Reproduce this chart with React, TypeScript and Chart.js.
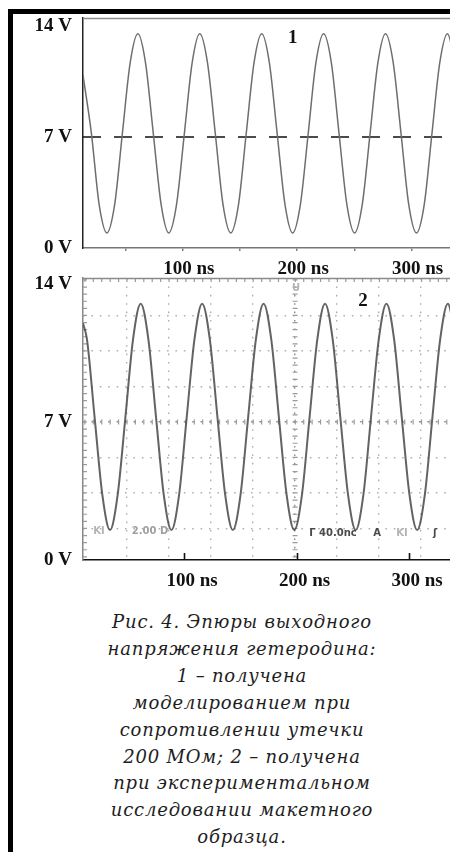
import React, { useEffect, useRef } from "react";
import { Chart, registerables } from "chart.js";

Chart.register(...registerables);

// ---------- data ----------
// Panel 1: simulated output voltage (time in ns, voltage in V)
const simTimes = [
  12.7, 20.1, 26.8, 33.6, 40.4, 47.1, 53.9, 60.7, 67.4, 74.2, 81.0, 87.7, 94.5,
  101.3, 108.1, 114.8, 121.6, 128.4, 135.1, 141.9, 148.7, 155.4, 162.2, 169.0,
  175.7, 182.5, 189.3, 196.0, 202.8, 209.6, 216.3, 223.1, 229.9, 236.6, 243.4,
  250.2, 256.9, 263.7, 270.5, 277.2, 284.0, 290.8, 297.5, 304.3, 311.1, 317.8,
  324.6, 331.4, 338.1,
];
const simVolts = [
  10.9, 7.2, 2.75,
  0.95, 2.75, 7.2, 11.65, 13.5, 11.65, 7.2, 2.75,
  0.95, 2.75, 7.2, 11.65, 13.5, 11.65, 7.2, 2.75,
  0.95, 2.75, 7.2, 11.65, 13.5, 11.65, 7.2, 2.75,
  0.95, 2.75, 7.2, 11.65, 13.5, 11.65, 7.2, 2.75,
  0.95, 2.75, 7.2, 11.65, 13.5, 11.65, 7.2, 2.75,
  0.95, 2.75, 7.2, 11.65, 13.5, 11.65,
];
const simMidVolt = 7;

// Panel 2: oscilloscope trace of the prototype
const scopeTimes = [
  10.2, 13.7, 20.5, 27.4,
  34.2, 41.0, 47.9, 54.7, 61.5, 68.3, 75.1, 82.0,
  88.8, 95.6, 102.4, 109.3, 116.1, 122.9, 129.7, 136.6,
  143.4, 150.2, 157.0, 163.9, 170.7, 177.5, 184.3, 191.2,
  198.0, 204.8, 211.6, 218.5, 225.3, 232.1, 238.9, 245.8,
  252.6, 259.4, 266.2, 273.1, 279.9, 286.7, 293.5, 300.4,
  307.2, 314.0, 320.8, 327.7, 334.5, 341.3,
];
const scopeVolts = [
  12.0, 11.2, 7.25, 3.3,
  1.52, 3.3, 7.25, 11.2, 13.0, 11.2, 7.25, 3.3,
  1.52, 3.3, 7.25, 11.2, 13.0, 11.2, 7.25, 3.3,
  1.52, 3.3, 7.25, 11.2, 13.0, 11.2, 7.25, 3.3,
  1.52, 3.3, 7.25, 11.2, 13.0, 11.2, 7.25, 3.3,
  1.52, 3.3, 7.25, 11.2, 13.0, 11.2, 7.25, 3.3,
  1.52, 3.3, 7.25, 11.2, 13.0, 11.2,
];
// oscilloscope graticule
const scopeGridTimes = [49.3, 86.7, 124.0, 161.3, 198.7, 236.0, 273.3, 310.7];
const scopeGridVolts = [1.6, 3.4, 5.2, 7.0, 8.8, 10.6, 12.4];

// ticks
const voltTicks = [0, 7, 14];
const simTimeTicks = [50, 100, 150, 200, 250, 300];
const scopeTimeTicks = [100, 200, 300];

// axis ranges
const simRange = { xMin: 12.7, xMax: 333.6, yMin: 0, yMax: 14.5 };
const scopeRange = { xMin: 10.2, xMax: 336.4, yMin: 0, yMax: 14.3 };

// texts
const simNotes = [{ text: "1", t: 196.1, v: 13.24, kind: "num" }];
const scopeNotes = [
  { text: "2", t: 259.1, v: 13.14, kind: "num" },
  { text: "U", t: 199.6, v: 13.75, kind: "faint" },
  { text: "KI", t: 24.4, v: 1.45, kind: "faint" },
  { text: "2.00 D", t: 69.8, v: 1.45, kind: "mid" },
  { text: "Г 40.0nc", t: 232.4, v: 1.37, kind: "dark" },
  { text: "A", t: 271.6, v: 1.37, kind: "dark" },
  { text: "KI", t: 293.8, v: 1.37, kind: "faint" },
  { text: "ʃ", t: 323.1, v: 1.37, kind: "dark" },
];

const captionLines = [
  "Рис. 4. Эпюры выходного",
  "напряжения гетеродина:",
  "1 – получена",
  "моделированием при",
  "сопротивлении утечки",
  "200 МОм; 2 – получена",
  "при экспериментальном",
  "исследовании макетного",
  "образца.",
];

// ---------- helpers ----------
const SERIF = '"Liberation Serif", "Times New Roman", serif';

const fixSize = (size: number) => (scale: any) => {
  if (scale.isHorizontal()) scale.height = size;
  else scale.width = size;
  scale.paddingLeft = 0;
  scale.paddingRight = 0;
  scale.paddingTop = 0;
  scale.paddingBottom = 0;
};
const setTicks = (values: number[]) => (scale: any) => {
  scale.ticks = values.map((value) => ({ value }));
};

const noteStyles: Record<string, { font: string; color: string }> = {
  num: { font: `bold 19px ${SERIF}`, color: "#111" },
  faint: { font: 'bold 10px "DejaVu Sans"', color: "#b4b4b4" },
  mid: { font: 'bold 10px "DejaVu Sans"', color: "#a0a0a0" },
  dark: { font: 'bold 10px "DejaVu Sans"', color: "#4a4a4a" },
};

const topFrame = {
  id: "topFrame",
  afterDatasetsDraw(chart: any, _a: any, opts: any) {
    const { ctx, chartArea } = chart;
    ctx.save();
    ctx.strokeStyle = opts.color;
    ctx.lineWidth = opts.width;
    ctx.beginPath();
    ctx.moveTo(chartArea.left, chartArea.top + 0.5);
    ctx.lineTo(chartArea.right, chartArea.top + 0.5);
    ctx.stroke();
    ctx.restore();
  },
};

const notesPlugin = {
  id: "notes",
  afterDatasetsDraw(chart: any, _a: any, opts: any) {
    const { ctx, scales } = chart;
    ctx.save();
    ctx.textAlign = "center";
    ctx.textBaseline = "middle";
    for (const n of opts.items || []) {
      const st = noteStyles[n.kind];
      ctx.font = st.font;
      ctx.fillStyle = st.color;
      ctx.fillText(n.text, scales.x.getPixelForValue(n.t), scales.y.getPixelForValue(n.v));
    }
    ctx.restore();
  },
};

const innerTicks = {
  id: "innerTicks",
  afterDraw(chart: any, _a: any, opts: any) {
    const { ctx, chartArea, scales } = chart;
    ctx.save();
    ctx.strokeStyle = opts.color;
    ctx.lineWidth = opts.width;
    ctx.beginPath();
    for (const t of scales.x.ticks) {
      const px = Math.round(scales.x.getPixelForValue(t.value)) + 0.5;
      ctx.moveTo(px, chartArea.bottom);
      ctx.lineTo(px, chartArea.bottom - opts.length);
    }
    ctx.stroke();
    ctx.restore();
  },
};

const scopeMarks = {
  id: "scopeMarks",
  beforeDatasetsDraw(chart: any, _a: any, opts: any) {
    const { ctx, chartArea: a, scales } = chart;
    const xg = scales.xg;
    const yg = scales.yg;
    const sub = (vals: number[], min: number, max: number) => {
      const step = (vals[1] - vals[0]) / 5;
      let start = vals[0];
      while (start - step >= min) start -= step;
      const out: number[] = [];
      for (let v = start; v <= max; v += step) out.push(v);
      return out;
    };
    const xs = sub(scopeGridTimes, xg.min, xg.max).map((v) => xg.getPixelForValue(v));
    const ys = sub(scopeGridVolts, yg.min, yg.max).map((v) => yg.getPixelForValue(v));
    const cx = xg.getPixelForValue(opts.centerX);
    const cy = yg.getPixelForValue(opts.centerY);
    ctx.save();
    ctx.strokeStyle = opts.color;
    ctx.lineWidth = 1.2;
    ctx.beginPath();
    for (const px of xs) {
      ctx.moveTo(px, cy - 2.5);
      ctx.lineTo(px, cy + 2.5);
      ctx.moveTo(px, a.top);
      ctx.lineTo(px, a.top + 4);
    }
    for (const py of ys) {
      ctx.moveTo(cx - 2.5, py);
      ctx.lineTo(cx + 2.5, py);
      ctx.moveTo(a.left, py);
      ctx.lineTo(a.left + 4, py);
    }
    ctx.stroke();
    ctx.restore();
  },
};

const tickFont = { family: SERIF, size: 19, weight: "bold" as const };

// ---------- charts ----------
function SimChart() {
  const ref = useRef<HTMLCanvasElement>(null);
  useEffect(() => {
    if (!ref.current) return;
    const chart = new Chart(ref.current, {
      type: "line",
      data: {
        datasets: [
          {
            data: simTimes.map((t, i) => ({ x: t, y: simVolts[i] })),
            borderColor: "#6e6e6e",
            borderWidth: 1.5,
            pointRadius: 0,
            cubicInterpolationMode: "monotone",
            fill: false,
          },
          {
            data: [
              { x: simRange.xMin, y: simMidVolt },
              { x: simRange.xMax, y: simMidVolt },
            ],
            borderColor: "#111",
            borderWidth: 1.4,
            borderDash: [18, 13],
            pointRadius: 0,
            fill: false,
          },
        ],
      },
      options: {
        animation: false,
        responsive: false,
        events: [],
        layout: { padding: { top: 4, right: 0, left: 0, bottom: 0 } },
        plugins: {
          legend: { display: false },
          tooltip: { enabled: false },
          topFrame: { color: "#8a8a8a", width: 1.5 },
          notes: { items: simNotes },
        } as any,
        scales: {
          x: {
            type: "linear",
            min: simRange.xMin,
            max: simRange.xMax,
            afterBuildTicks: setTicks(simTimeTicks),
            afterFit: fixSize(28),
            grid: { drawOnChartArea: false, drawTicks: true, tickLength: 3, color: "#808080", lineWidth: 1.5 },
            border: { display: true, color: "#777", width: 1.5 },
            ticks: {
              autoSkip: false,
              maxRotation: 0,
              padding: 7,
              labelOffset: 6,
              color: "#111",
              font: tickFont,
              callback: (v: any) => (Number(v) % 100 === 0 ? `${v} ns` : ""),
            },
          },
          y: {
            type: "linear",
            min: simRange.yMin,
            max: simRange.yMax,
            afterBuildTicks: setTicks(voltTicks),
            afterFit: fixSize(70),
            grid: { display: false, drawTicks: false },
            border: { display: true, color: "#222", width: 1.5 },
            ticks: { padding: 11, color: "#111", font: tickFont, callback: (v: any) => `${v} V` },
          },
        },
      } as any,
      plugins: [topFrame, notesPlugin] as any,
    });
    return () => chart.destroy();
  }, []);
  return (
    <canvas
      ref={ref}
      width={437}
      height={262}
      style={{ position: "absolute", left: 13, top: 14, width: 437, height: 262, display: "block" }}
    />
  );
}

function ScopeChart() {
  const ref = useRef<HTMLCanvasElement>(null);
  useEffect(() => {
    if (!ref.current) return;
    const centerX = scopeGridTimes[4];
    const centerY = scopeGridVolts[3];
    const chart = new Chart(ref.current, {
      type: "line",
      data: {
        datasets: [
          {
            data: scopeTimes.map((t, i) => ({ x: t, y: scopeVolts[i] })),
            borderColor: "rgba(72,72,72,0.85)",
            borderWidth: 2,
            pointRadius: 0,
            cubicInterpolationMode: "monotone",
            fill: false,
          },
        ],
      },
      options: {
        animation: false,
        responsive: false,
        events: [],
        layout: { padding: { top: 16, right: 0, left: 0, bottom: 0 } },
        plugins: {
          legend: { display: false },
          tooltip: { enabled: false },
          topFrame: { color: "#8a8a8a", width: 1.5 },
          innerTicks: { color: "#111", width: 1.6, length: 7 },
          scopeMarks: { color: "#9a9a9a", centerX, centerY },
          notes: { items: scopeNotes },
        } as any,
        scales: {
          x: {
            type: "linear",
            min: scopeRange.xMin,
            max: scopeRange.xMax,
            afterBuildTicks: setTicks(scopeTimeTicks),
            afterFit: fixSize(36),
            grid: { display: false, drawTicks: false },
            border: { display: true, color: "#111", width: 1.6 },
            ticks: {
              autoSkip: false,
              maxRotation: 0,
              padding: 10,
              labelOffset: 8,
              color: "#111",
              font: tickFont,
              callback: (v: any) => `${v} ns`,
            },
          },
          y: {
            type: "linear",
            min: scopeRange.yMin,
            max: scopeRange.yMax,
            afterBuildTicks: setTicks(voltTicks),
            afterFit: fixSize(70),
            grid: { display: false, drawTicks: false },
            border: { display: true, color: "#888", width: 1.5 },
            ticks: { padding: 11, color: "#111", font: tickFont, callback: (v: any) => `${v} V` },
          },
          xg: {
            type: "linear",
            position: "top",
            min: scopeRange.xMin,
            max: scopeRange.xMax,
            afterBuildTicks: setTicks(scopeGridTimes),
            afterFit: fixSize(0),
            ticks: { display: false },
            border: { display: false, dash: [1.6, 6.8] },
            grid: {
              drawTicks: false,
              lineWidth: 1.4,
              color: (c: any) => (c.tick && c.tick.value === centerX ? "#8a8a8a" : "#b0b0b0"),
            },
          },
          yg: {
            type: "linear",
            position: "right",
            min: scopeRange.yMin,
            max: scopeRange.yMax,
            afterBuildTicks: setTicks(scopeGridVolts),
            afterFit: fixSize(0),
            ticks: { display: false },
            border: { display: false, dash: [1.6, 6.8] },
            grid: {
              drawTicks: false,
              lineWidth: 1.4,
              color: (c: any) => (c.tick && c.tick.value === centerY ? "#8a8a8a" : "#b0b0b0"),
            },
          },
        },
      } as any,
      plugins: [topFrame, scopeMarks, innerTicks, notesPlugin] as any,
    });
    return () => chart.destroy();
  }, []);
  return (
    <canvas
      ref={ref}
      width={437}
      height={334}
      style={{ position: "absolute", left: 13, top: 262, width: 437, height: 334, display: "block" }}
    />
  );
}

export default function App() {
  return (
    <div
      style={{
        position: "absolute",
        left: 0,
        top: 0,
        width: 450,
        height: 852,
        background: "#fff",
        overflow: "hidden",
      }}
    >
      <div
        style={{
          position: "absolute",
          left: 8,
          top: 9,
          width: 460,
          height: 860,
          borderLeft: "5px solid #000",
          borderTop: "5px solid #000",
          boxSizing: "border-box",
        }}
      />
      <SimChart />
      <ScopeChart />
      <div
        style={{
          position: "absolute",
          left: 42,
          width: 400,
          top: 609,
          textAlign: "center",
          fontFamily: '"DejaVu Serif", serif',
          fontStyle: "italic",
          fontSize: 18,
          lineHeight: "26.9px",
          letterSpacing: 0.8,
          color: "#1e1e1e",
        }}
      >
        {captionLines.map((line, i) => (
          <div key={i}>{line}</div>
        ))}
      </div>
    </div>
  );
}
